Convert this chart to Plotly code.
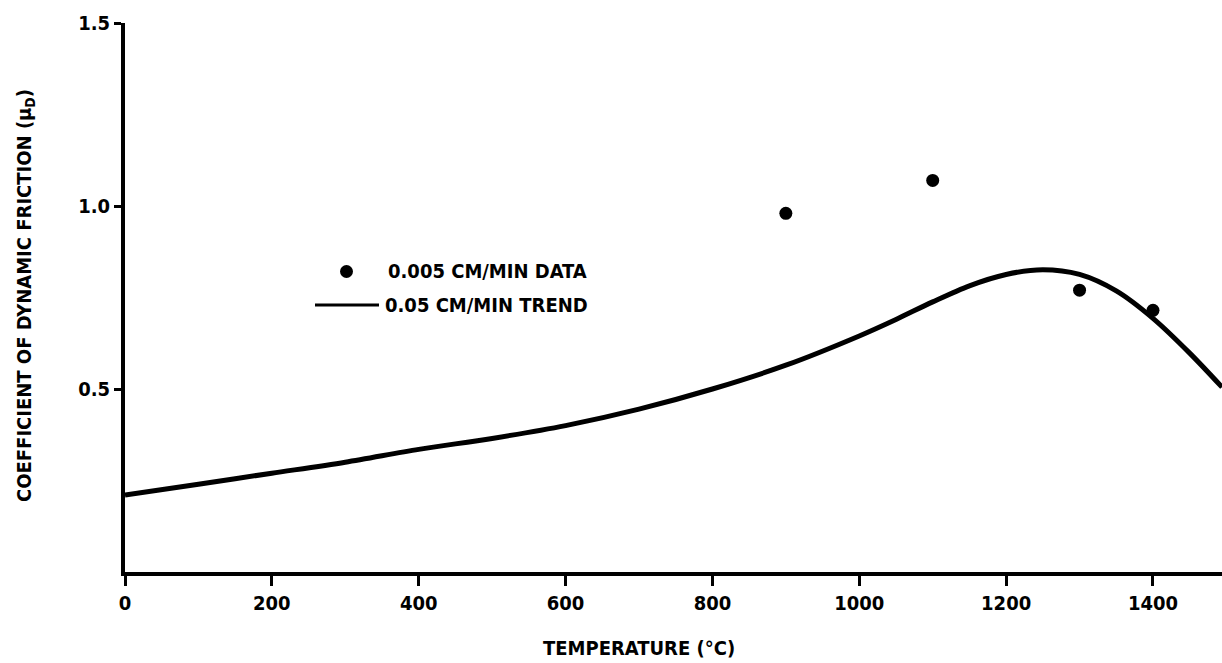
import plotly.graph_objects as go

# Friction measurements at the slow sliding rate
data_temp = [900, 1100, 1300, 1400]
data_mu = [0.98, 1.07, 0.77, 0.715]

# Trend curve at the faster sliding rate
trend_temp = [0, 100, 200, 300, 400, 500, 600, 700, 800, 900, 1000,
              1050, 1100, 1150, 1200, 1250, 1300, 1350, 1400, 1450, 1494]
trend_mu = [0.21, 0.24, 0.27, 0.30, 0.335, 0.365, 0.40, 0.445, 0.50, 0.565, 0.645,
            0.69, 0.738, 0.782, 0.813, 0.826, 0.813, 0.768, 0.693, 0.598, 0.505]

x_ticks = [0, 200, 400, 600, 800, 1000, 1200, 1400]
y_ticks = [0.5, 1.0, 1.5]
y_tick_text = ["0.5", "1.0", "1.5"]

FONT = "DejaVu Sans Condensed, Liberation Sans Narrow, Arial Narrow, sans-serif"

W, H = 1222, 663
L, R, T, B = 125, 0, 23, 91
pw, ph = W - L - R, H - T - B


def px(x):
    return (x - L) / pw


def py(y):
    return (H - B - y) / ph


fig = go.Figure()

fig.add_trace(go.Scatter(
    x=trend_temp, y=trend_mu, mode="lines",
    line=dict(color="black", width=5, shape="spline", smoothing=0.9),
    showlegend=False, hoverinfo="skip",
))
fig.add_trace(go.Scatter(
    x=data_temp, y=data_mu, mode="markers",
    marker=dict(color="black", size=13),
    showlegend=False,
))

# Hand-placed key
shapes = [
    dict(type="circle", xref="paper", yref="paper",
         x0=px(340), x1=px(353), y0=py(278), y1=py(265),
         fillcolor="black", line=dict(color="black", width=0)),
    dict(type="line", xref="paper", yref="paper",
         x0=px(315), x1=px(379), y0=py(305), y1=py(305),
         line=dict(color="black", width=3)),
]

annotations = [
    dict(text="0.005 CM/MIN DATA", xref="paper", yref="paper",
         x=px(386), y=py(271), xanchor="left", yanchor="middle", showarrow=False,
         font=dict(family=FONT, size=20, color="black", weight="bold")),
    dict(text="0.05 CM/MIN TREND", xref="paper", yref="paper",
         x=px(383), y=py(305), xanchor="left", yanchor="middle", showarrow=False,
         font=dict(family=FONT, size=20, color="black", weight="bold")),
    dict(text="TEMPERATURE (°C)", xref="paper", yref="paper",
         x=px(639), y=py(648), xanchor="center", yanchor="middle", showarrow=False,
         font=dict(family=FONT, size=20, color="black", weight="bold")),
    dict(text="COEFFICIENT OF DYNAMIC FRICTION (μ<sub>D</sub>)", xref="paper", yref="paper",
         x=px(25), y=py(296), xanchor="center", yanchor="middle", showarrow=False,
         textangle=-90,
         font=dict(family=FONT, size=20, color="black", weight="bold")),
]

fig.update_layout(
    width=W, height=H,
    margin=dict(l=L, r=R, t=T, b=B, pad=0),
    plot_bgcolor="white", paper_bgcolor="white",
    shapes=shapes, annotations=annotations,
    xaxis=dict(
        range=[0, 1494], tickmode="array", tickvals=x_ticks,
        showline=True, linecolor="black", linewidth=4,
        ticks="outside", ticklen=10, tickwidth=3, tickcolor="black",
        showgrid=False, zeroline=False,
        tickfont=dict(family=FONT, size=20, color="black", weight="bold"),
    ),
    yaxis=dict(
        range=[0, 1.5], tickmode="array", tickvals=y_ticks, ticktext=y_tick_text,
        showline=True, linecolor="black", linewidth=4,
        ticks="outside", ticklen=7, tickwidth=3, tickcolor="black",
        showgrid=False, zeroline=False,
        tickfont=dict(family=FONT, size=20, color="black", weight="bold"),
    ),
    font=dict(family=FONT, color="black"),
)

fig.write_html("out.html")
